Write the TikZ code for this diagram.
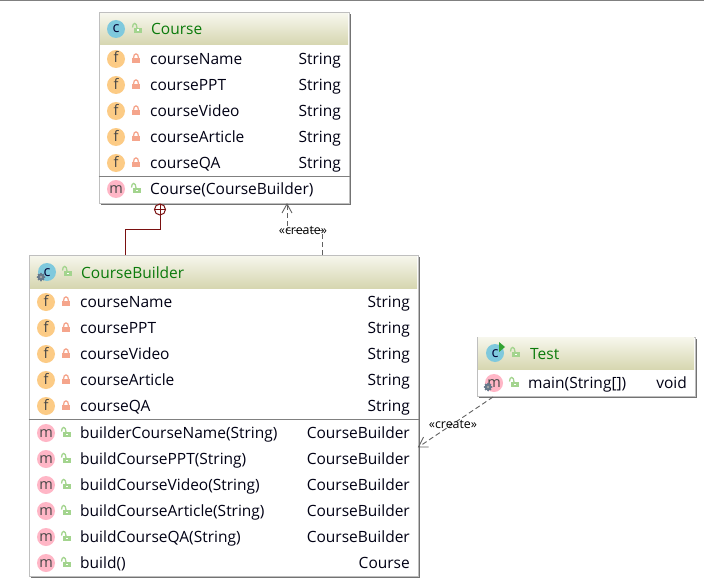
\documentclass[tikz,border=0pt]{standalone}
\usepackage{fontspec}
\setmainfont{Open Sans}
\usetikzlibrary{shadows}
\definecolor{fieldfill}{HTML}{FCCB85}
\definecolor{methodfill}{HTML}{FFB6C6}
\definecolor{classfill}{HTML}{7FC9DD}
\definecolor{closedlock}{HTML}{F5A58C}
\definecolor{openlock}{HTML}{A3D48E}
\definecolor{titlegreen}{HTML}{0B7A0B}
\definecolor{ownred}{HTML}{7A1010}
\definecolor{headtop}{HTML}{F6F6EC}
\definecolor{headbottom}{HTML}{D6D6B0}
\definecolor{gearblue}{HTML}{66788A}
\tikzset{
umlbox/.style={draw=black!25,fill=white,rectangle,inner sep=0pt,line width=1pt,
  drop shadow={shadow xshift=1.5pt,shadow yshift=-1.5pt,opacity=1,fill=black!55}},
umlhead/.style={rectangle,inner sep=0pt,top color=headtop,bottom color=headbottom},
rowtext/.style={anchor=west,inner sep=0pt,text height=12pt,text depth=2pt,font=\fontsize{15.5}{16}\selectfont,text=black!92!blue},
typetext/.style={rowtext,anchor=east},
titletext/.style={rowtext,text=titlegreen},
icon/.style={circle,inner sep=0pt,minimum size=18pt,text height=8pt,text depth=0pt,font=\fontsize{14.5}{15}\selectfont,text=black!72},
fieldicon/.style={icon,fill=fieldfill},
methodicon/.style={icon,fill=methodfill},
classicon/.style={icon,fill=classfill,text=black!80!blue},
sepline/.style={line width=1pt,draw=black!50},
ownline/.style={draw=ownred,line width=1pt},
createline/.style={draw=black!62,line width=.9pt,dash pattern=on 5pt off 3pt},
opentip/.style={draw=black!62,line width=.9pt},
createtext/.style={inner sep=0pt,font=\fontsize{12.4}{13}\selectfont},
lockclosed/.pic={\fill[closedlock] (-4,-1) rectangle (4,4);
  \draw[closedlock,line width=1.3pt] (-2.5,-1) .. controls (-2.5,-6.5) and (2.5,-6.5) .. (2.5,-1);},
lockopen/.pic={\fill[openlock] (-3,-1) rectangle (5,4);
  \fill[white] (.3,.5) rectangle (1.8,2);
  \draw[openlock,line width=1.3pt] (-4.5,-1.5) .. controls (-4.5,-7) and (0,-7) .. (0,-1);},
gearmark/.pic={\fill[gearblue] (0,0) circle (3.5);\foreach \a in {0,45,...,315}{\fill[gearblue] (\a:3.5) circle (1);}
  \fill[white!65!black] (0,0) circle (1.4);}
}
\begin{document}
\begin{tikzpicture}[x=1pt,y=-1pt]
\useasboundingbox (0,0) rectangle (704,578);
\fill[black!50] (0,0) rectangle (704,1);
% Course
\node[umlbox,minimum width=250pt,minimum height=190pt] (Course) at (224,108) {};
\node[umlhead,minimum width=248pt,minimum height=31pt] (CourseHead) at (224,29.5) {};
\node[classicon] (CourseC) at (116,29) {c};
\pic at (137,29) {lockopen};
\node[titletext] (CourseTitle) at (151,30) {Course};
\node[fieldicon] (cf1Icon) at (116,59) {f};
\pic at (136,59) {lockclosed};
\node[rowtext] (cf1Name) at (150,59) {courseName};
\node[typetext] (cf1Type) at (341,59) {String};
\node[fieldicon] (cf2Icon) at (116,85) {f};
\pic at (136,85) {lockclosed};
\node[rowtext] (cf2Name) at (150,85) {coursePPT};
\node[typetext] (cf2Type) at (341,85) {String};
\node[fieldicon] (cf3Icon) at (116,111) {f};
\pic at (136,111) {lockclosed};
\node[rowtext] (cf3Name) at (150,111) {courseVideo};
\node[typetext] (cf3Type) at (341,111) {String};
\node[fieldicon] (cf4Icon) at (116,137) {f};
\pic at (136,137) {lockclosed};
\node[rowtext] (cf4Name) at (150,137) {courseArticle};
\node[typetext] (cf4Type) at (341,137) {String};
\node[fieldicon] (cf5Icon) at (116,163) {f};
\pic at (136,163) {lockclosed};
\node[rowtext] (cf5Name) at (150,163) {courseQA};
\node[typetext] (cf5Type) at (341,163) {String};
\draw[sepline] (Course.west |- 0,176) -- (Course.east |- 0,176);
\node[methodicon] (cm1Icon) at (116,189) {m};
\pic at (136,189) {lockopen};
\node[rowtext] (cm1Name) at (150,189) {Course(CourseBuilder)};
% CourseBuilder
\node[umlbox,minimum width=389pt,minimum height=321pt] (CourseBuilder) at (223.5,415.5) {};
\node[umlhead,minimum width=387pt,minimum height=32pt] (BuilderHead) at (223.5,272) {};
\node[classicon] (BuilderC) at (47,272) {c};
\pic at (41,277) {gearmark};
\pic at (67,272) {lockopen};
\node[titletext] (BuilderTitle) at (81,273) {CourseBuilder};
\node[fieldicon] (bf1Icon) at (46,302) {f};
\pic at (66,302) {lockclosed};
\node[rowtext] (bf1Name) at (80,302) {courseName};
\node[typetext] (bf1Type) at (410,302) {String};
\node[fieldicon] (bf2Icon) at (46,328) {f};
\pic at (66,328) {lockclosed};
\node[rowtext] (bf2Name) at (80,328) {coursePPT};
\node[typetext] (bf2Type) at (410,328) {String};
\node[fieldicon] (bf3Icon) at (46,354) {f};
\pic at (66,354) {lockclosed};
\node[rowtext] (bf3Name) at (80,354) {courseVideo};
\node[typetext] (bf3Type) at (410,354) {String};
\node[fieldicon] (bf4Icon) at (46,380) {f};
\pic at (66,380) {lockclosed};
\node[rowtext] (bf4Name) at (80,380) {courseArticle};
\node[typetext] (bf4Type) at (410,380) {String};
\node[fieldicon] (bf5Icon) at (46,406) {f};
\pic at (66,406) {lockclosed};
\node[rowtext] (bf5Name) at (80,406) {courseQA};
\node[typetext] (bf5Type) at (410,406) {String};
\draw[sepline] (CourseBuilder.west |- 0,419) -- (CourseBuilder.east |- 0,419);
\node[methodicon] (bm1Icon) at (46,433) {m};
\pic at (66,433) {lockopen};
\node[rowtext] (bm1Name) at (80,433) {builderCourseName(String)};
\node[typetext] (bm1Type) at (410,433) {CourseBuilder};
\node[methodicon] (bm2Icon) at (46,459) {m};
\pic at (66,459) {lockopen};
\node[rowtext] (bm2Name) at (80,459) {buildCoursePPT(String)};
\node[typetext] (bm2Type) at (410,459) {CourseBuilder};
\node[methodicon] (bm3Icon) at (46,485) {m};
\pic at (66,485) {lockopen};
\node[rowtext] (bm3Name) at (80,485) {buildCourseVideo(String)};
\node[typetext] (bm3Type) at (410,485) {CourseBuilder};
\node[methodicon] (bm4Icon) at (46,511) {m};
\pic at (66,511) {lockopen};
\node[rowtext] (bm4Name) at (80,511) {buildCourseArticle(String)};
\node[typetext] (bm4Type) at (410,511) {CourseBuilder};
\node[methodicon] (bm5Icon) at (46,537) {m};
\pic at (66,537) {lockopen};
\node[rowtext] (bm5Name) at (80,537) {buildCourseQA(String)};
\node[typetext] (bm5Type) at (410,537) {CourseBuilder};
\node[methodicon] (bm6Icon) at (46,563) {m};
\pic at (66,563) {lockopen};
\node[rowtext] (bm6Name) at (80,563) {build()};
\node[typetext] (bm6Type) at (410,563) {Course};
% Test
\node[umlbox,minimum width=218pt,minimum height=59pt] (Test) at (586,366.5) {};
\node[umlhead,minimum width=216pt,minimum height=32pt] (TestHead) at (586,353.5) {};
\node[classicon] (TestC) at (495,353) {c};
\fill[green!55!black!80] (499,342) -- (505,347) -- (499,352) -- cycle;
\pic at (515,353) {lockopen};
\node[titletext] (TestTitle) at (530,354) {Test};
\node[methodicon] (TestMain) at (494,383) {m};
\pic at (488,387) {gearmark};
\pic at (514,383) {lockopen};
\node[rowtext] (TestMainName) at (528,383) {main(String[])};
\node[typetext] (TestMainType) at (687,383) {void};
% connectors
\coordinate (ownEnd) at (125,255);
\coordinate (createEnd) at (322,255);
\coordinate (createTop) at (287,204);
\coordinate (testEnd) at (493,397);
\coordinate (builderIn) at (418.5,447);
\node[circle,draw=ownred,fill=white,line width=1pt,minimum size=11pt,inner sep=0pt] (plusMark) at (160,209.5) {};
\draw[ownred,line width=.8pt] (plusMark.west) -- (plusMark.east);
\draw[ownred,line width=.8pt] (plusMark.north) -- (plusMark.south);
\draw[ownline] (ownEnd) -- ++(0,-26) -| (plusMark.south);
\draw[createline] (createEnd) -- ++(0,-25) -| (createTop);
\draw[opentip] (createTop) ++(-5,9) -- (createTop) -- ++(5,9);
\node[createtext] (createLabelA) at (303,230) {«create»};
\draw[createline] (testEnd) -- (builderIn);
\draw[opentip] (builderIn) ++(10,0) -- (builderIn) -- ++(5,-10);
\node[createtext] (createLabelB) at (453,424) {«create»};
\end{tikzpicture}
\end{document}
